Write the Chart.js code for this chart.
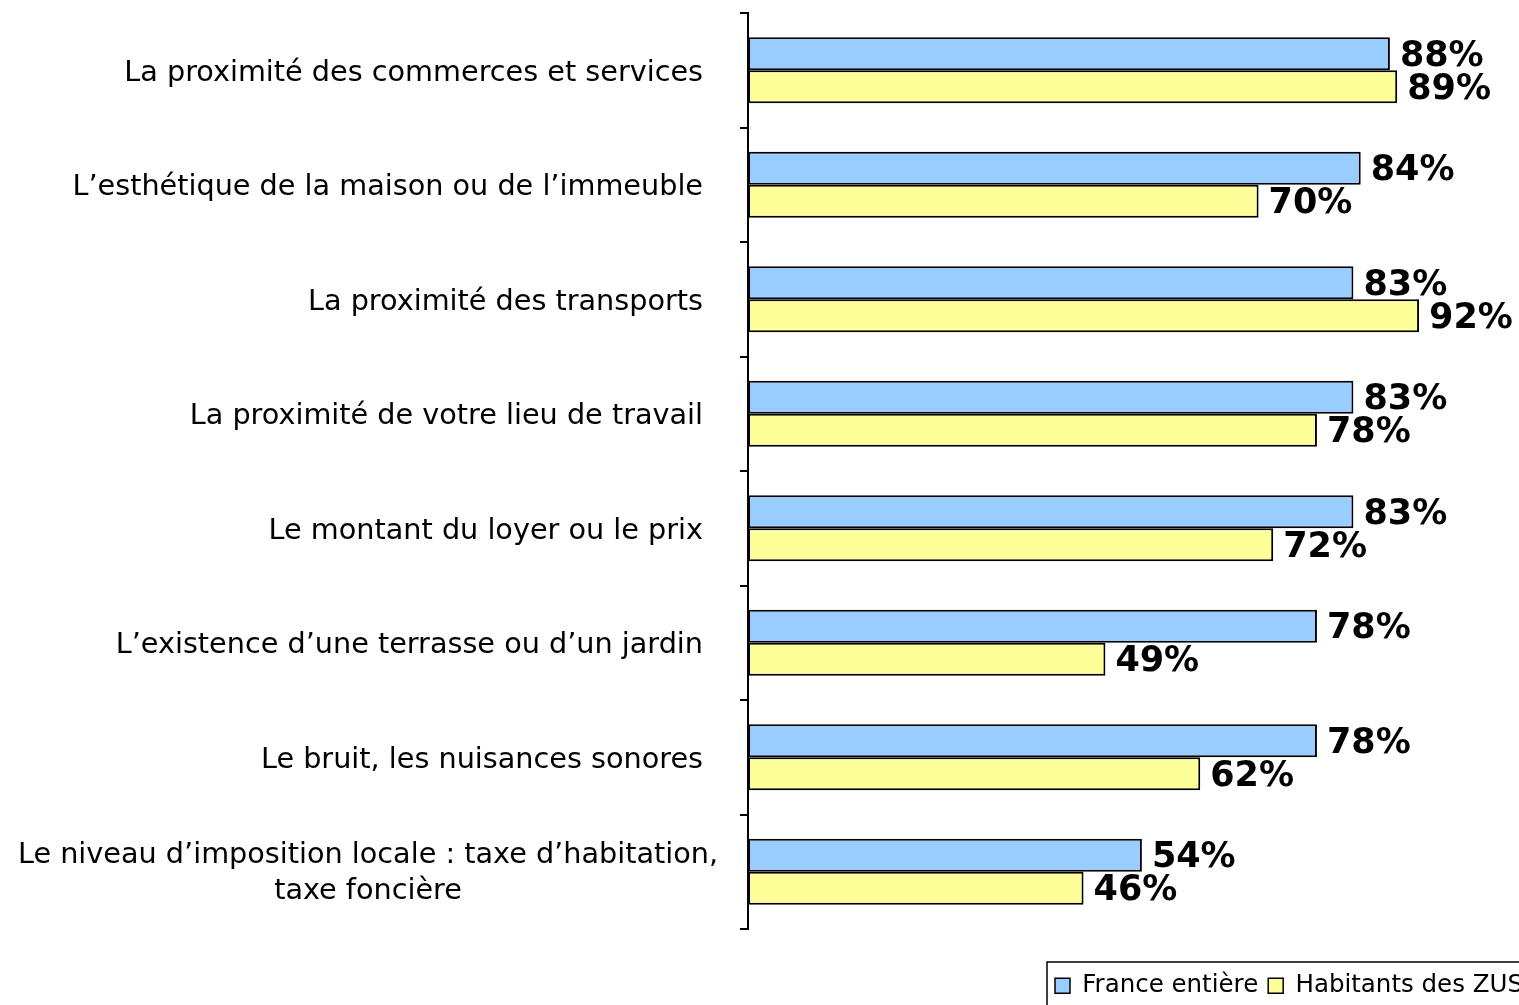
<!DOCTYPE html>
<html>
<head>
<meta charset="utf-8">
<script src="https://cdn.jsdelivr.net/npm/chart.js@4/dist/chart.umd.min.js"></script>
<style>
    html, body { margin: 0; padding: 0; background: #ffffff; }
    canvas { display: block; }
</style>
</head>
<body>
<canvas id="chart" width="1519" height="1005"></canvas>
<script>
const categories = [
    'La proximité des commerces et services',
    'L’esthétique de la maison ou de l’immeuble',
    'La proximité des transports',
    'La proximité de votre lieu de travail',
    'Le montant du loyer ou le prix',
    'L’existence d’une terrasse ou d’un jardin',
    'Le bruit, les nuisances sonores',
    ['Le niveau d’imposition locale : taxe d’habitation,', 'taxe foncière'],
];
const franceEntiere = [88, 84, 83, 83, 83, 78, 78, 54];
const habitantsZus = [89, 70, 92, 78, 72, 49, 62, 46];
const seriesNames = ['France entière', 'Habitants des ZUS'];

const FONT = 'DejaVu Sans';

// category labels drawn by hand: single lines right aligned, wrapped label centred
const categoryLabels = {
    id: 'categoryLabels',
    afterDraw(chart) {
        const ctx = chart.ctx;
        const y = chart.scales.y;
        ctx.save();
        ctx.fillStyle = '#000000';
        ctx.font = '28.7px "' + FONT + '"';
        ctx.textBaseline = 'middle';
        categories.forEach((label, i) => {
            const py = y.getPixelForValue(i);
            if (Array.isArray(label)) {
                ctx.textAlign = 'center';
                const lh = 36;
                label.forEach((line, j) => {
                    ctx.fillText(line, 368, py + 2 + (j - (label.length - 1) / 2) * lh);
                });
            } else {
                ctx.textAlign = 'right';
                ctx.fillText(label, y.right - 45, py + 3);
            }
        });
        ctx.restore();
    },
};

// percentage labels at the end of each bar
const valueLabels = {
    id: 'valueLabels',
    afterDatasetsDraw(chart) {
        const ctx = chart.ctx;
        ctx.save();
        ctx.fillStyle = '#000000';
        ctx.font = 'bold 35px "' + FONT + '"';
        ctx.textAlign = 'left';
        ctx.textBaseline = 'middle';
        chart.data.datasets.forEach((ds, d) => {
            const meta = chart.getDatasetMeta(d);
            meta.data.forEach((bar, i) => {
                ctx.fillText(ds.data[i] + '%', bar.x + 10, bar.y + 3);
            });
        });
        ctx.restore();
    },
};

// frame around the legend
const legendFrame = {
    id: 'legendFrame',
    afterDraw(chart) {
        const lg = chart.legend;
        if (!lg || !lg.legendHitBoxes || !lg.legendHitBoxes.length) return;
        const ctx = chart.ctx;
        const left = lg.legendHitBoxes[0].left - 8;
        ctx.save();
        ctx.strokeStyle = '#000000';
        ctx.lineWidth = 1.5;
        ctx.strokeRect(left, lg.top - 1.5, chart.width - left + 20, lg.height + 10);
        ctx.restore();
    },
};

Chart.defaults.font.family = FONT;
Chart.defaults.color = '#000000';

new Chart(document.getElementById('chart'), {
    type: 'bar',
    data: {
        labels: categories,
        datasets: [
            {
                label: seriesNames[0],
                data: franceEntiere,
                backgroundColor: '#99ccff',
                borderColor: '#000000',
                borderWidth: 2,
                borderSkipped: false,
            },
            {
                label: seriesNames[1],
                data: habitantsZus,
                backgroundColor: '#ffff99',
                borderColor: '#000000',
                borderWidth: 2,
                borderSkipped: false,
            },
        ],
    },
    options: {
        indexAxis: 'y',
        responsive: false,
        animation: false,
        events: [],
        layout: { padding: { top: 13, left: 0, right: -14, bottom: -3 } },
        datasets: {
            bar: { categoryPercentage: 0.576, barPercentage: 1 },
        },
        scales: {
            x: {
                min: 0,
                max: 105.7,
                grid: { display: false },
                border: { display: false },
                ticks: { display: false },
                afterFit: (scale) => { scale.height = 34.5; },
            },
            y: {
                grid: {
                    offset: true,
                    drawOnChartArea: false,
                    drawTicks: true,
                    tickLength: 8,
                    color: '#000000',
                    lineWidth: 2,
                },
                border: { display: true, color: '#000000', width: 2 },
                ticks: { display: false },
                afterFit: (scale) => { scale.width = 748; },
            },
        },
        plugins: {
            title: { display: false },
            tooltip: { enabled: false },
            legend: {
                position: 'bottom',
                align: 'end',
                labels: {
                    boxWidth: 15,
                    boxHeight: 15,
                    padding: 10,
                    font: { size: 24.5, family: FONT },
                    color: '#000000',
                    generateLabels: (chart) => chart.data.datasets.map((ds, i) => ({
                        text: ds.label,
                        fillStyle: ds.backgroundColor,
                        strokeStyle: '#000000',
                        lineWidth: 1.5,
                        datasetIndex: i,
                        hidden: false,
                    })),
                },
            },
        },
    },
    plugins: [categoryLabels, valueLabels, legendFrame],
});
</script>
</body>
</html>
